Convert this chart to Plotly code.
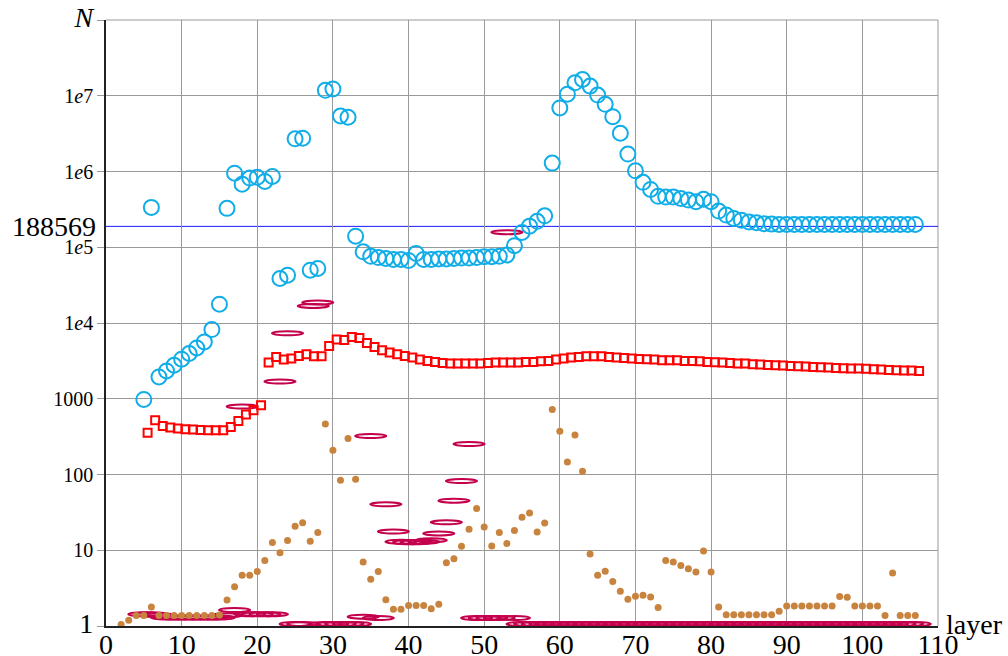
import numpy as np
import plotly.graph_objects as go

# ---------------- data ----------------
circ_layers = list(range(5, 108))
circ_vals = [
    980, 3.36e5, 1940, 2330, 2770, 3325, 3955, 4690, 5630, 8200,      # 5-14
    1.77e4, 3.26e5, 9.5e5, 6.8e5, 8.2e5, 8.4e5, 7.4e5, 8.6e5, 3.87e4, 4.28e4,  # 15-24
    2.7e6, 2.75e6, 4.98e4, 5.25e4, 1.18e7, 1.23e7, 5.4e6, 5.2e6, 1.4e5, 8.7e4,  # 25-34
    7.6e4, 7.3e4, 7.1e4, 6.9e4, 6.9e4, 6.7e4, 8.3e4, 6.9e4, 6.9e4, 7.0e4,  # 35-44
    7.0e4, 7.1e4, 7.2e4, 7.2e4, 7.3e4, 7.5e4, 7.5e4, 7.6e4, 7.9e4, 1.05e5,  # 45-54
    1.57e5, 1.9e5, 2.2e5, 2.6e5, 1.29e6, 6.9e6, 1.05e7, 1.48e7, 1.64e7, 1.34e7,  # 55-64
    1.02e7, 7.7e6, 5.3e6, 3.2e6, 1.7e6, 1.02e6, 7.2e5, 5.8e5, 4.7e5, 4.6e5,  # 65-74
    4.6e5, 4.4e5, 4.2e5, 4.0e5, 4.3e5, 4.0e5, 3.0e5, 2.66e5, 2.4e5, 2.28e5,  # 75-84
    2.16e5, 2.1e5, 2.05e5, 2.02e5, 2.0e5, 2.0e5, 2.0e5, 2.0e5, 2.0e5, 2.0e5,  # 85-94
    2.0e5, 2.0e5, 2.0e5, 2.0e5, 2.0e5, 2.0e5, 2.0e5, 2.0e5, 2.0e5, 2.0e5,  # 95-104
    2.0e5, 2.0e5, 2.0e5,                                                   # 105-107
]

sq_layers = [l + 0.5 for l in range(5, 108)]
sq_vals = [
    357, 520, 437, 417, 404, 395, 392, 386, 384, 384,        # 5.5-14.5
    384, 424, 509, 620, 705, 820, 3000, 3560, 3300, 3390,    # 15.5-24.5
    3670, 3870, 3640, 3640, 4980, 6050, 5950, 6550, 6340, 5460,  # 25.5-34.5
    4830, 4370, 4070, 3870, 3670, 3500, 3300, 3160, 3060, 2970,  # 35.5-44.5
    2915, 2915, 2915, 2915, 2915, 2970, 3000, 3000, 3000, 3010,  # 45.5-54.5
    3060, 3060, 3130, 3160, 3300, 3400, 3500, 3565, 3640, 3640,  # 55.5-64.5
    3640, 3565, 3500, 3460, 3400, 3360, 3325, 3300, 3225, 3225,  # 65.5-74.5
    3225, 3160, 3160, 3130, 3060, 3035, 3005, 2970, 2915, 2915,  # 75.5-84.5
    2855, 2830, 2800, 2770, 2745, 2710, 2690, 2660, 2630, 2605,  # 85.5-94.5
    2580, 2555, 2530, 2505, 2505, 2480, 2455, 2430, 2400, 2380,  # 95.5-104.5
    2355, 2355, 2330,                                            # 105.5-107.5
]

dot_layers = list(range(2, 108))
dot_vals = [
    1.05, 1.19, 1.38, 1.38, 1.78, 1.38, 1.38, 1.38, 1.38, 1.38,   # 2-11
    1.38, 1.38, 1.38, 1.40, 2.2, 3.3, 4.66, 4.66, 5.26, 7.35,     # 12-21
    12.7, 9.3, 13.5, 20.7, 23.1, 13.1, 17.1, 465, 209, 84,        # 22-31
    298, 86.5, 7.0, 4.15, 5.26, 2.22, 1.66, 1.66, 1.87, 1.87,     # 32-41
    1.87, 1.69, 1.93, 6.86, 7.74, 11.3, 18.9, 35.7, 20.3, 11.4,   # 42-51
    17.1, 12.3, 18.2, 27.2, 31, 17.4, 22.9, 720, 372, 146,        # 52-61
    333, 110, 8.9, 4.66, 5.3, 3.86, 2.87, 2.25, 2.47, 2.54,       # 62-71
    2.41, 1.76, 7.3, 7.0, 6.3, 5.7, 5.15, 9.8, 5.15, 1.78,        # 72-81
    1.41, 1.41, 1.41, 1.41, 1.41, 1.41, 1.41, 1.57, 1.83, 1.83,   # 82-91
    1.83, 1.83, 1.83, 1.83, 1.83, 2.46, 2.4, 1.83, 1.83, 1.83,    # 92-101
    1.83, 1.38, 5.0, 1.38, 1.38, 1.38,                            # 102-107
]

ell_layers = [5, 6, 7, 8, 9, 10, 11, 12, 13, 14, 15, 16, 17, 18, 19, 20, 21, 22,
              23, 24, 25, 26, 27.4, 28, 29, 30, 31, 32, 33, 34, 35, 36, 37, 38,
              39, 40, 41, 42, 43, 44, 45, 46, 47, 48, 49, 50, 51, 52, 53, 54] + list(range(55, 108))
ell_vals = [1.35, 1.35, 1.3, 1.22, 1.22, 1.22, 1.22, 1.22, 1.22, 1.22, 1.22, 1.3,
            1.53, 742, 1.35, 1.35, 1.35, 1.35, 1590, 6900, 1.0, 1.0, 1.58e4, 1.75e4,
            1.0, 1.0, 1.0, 1.0, 1.0, 1.25, 303, 1.2, 38, 16.6, 12.2, 12.0, 12.0,
            12.2, 12.8, 15.7, 22, 42.5, 77, 238, 1.2, 1.2, 1.2, 1.2, 1.49e5, 1.2] + [1.0] * 53

ref_value = 188569

x_ticks = list(range(0, 111, 10))
y_ticks = [1, 10, 100, 1000, 1e4, 1e5, 1e6, 1e7, 1e8]
y_ticktext = ['<span style="font-size:28px">1</span>', '10', '100', '1000',
              '1<i>e</i>4', '1<i>e</i>5', '1<i>e</i>6', '1<i>e</i>7',
              '<span style="font-size:28px"><i>N</i></span>']

FONT = "Liberation Serif"
GRID = "#9a9a9a"

fig = go.Figure()

# frame lines at the top and right edge (grid colour)
fig.add_shape(type="line", xref="paper", yref="paper", x0=0, x1=1, y0=1, y1=1,
              line=dict(color=GRID, width=1), layer="below")
fig.add_shape(type="line", xref="paper", yref="paper", x0=1, x1=1, y0=0, y1=1,
              line=dict(color=GRID, width=1), layer="below")

# ellipses
for xv, yv in zip(ell_layers, ell_vals):
    fig.add_shape(type="circle", xref="x", yref="y", xsizemode="pixel", ysizemode="pixel",
                  xanchor=xv, yanchor=yv, x0=-15.5, x1=15.5, y0=-4, y1=4,
                  line=dict(color="#C4004C", width=2), layer="between")

# reference line
fig.add_shape(type="line", xref="paper", x0=0, x1=1, yref="y", y0=ref_value, y1=ref_value,
              line=dict(color="#1a1aff", width=1), layer="between")

fig.add_trace(go.Scatter(x=dot_layers, y=dot_vals, mode="markers",
                         marker=dict(size=7, color="#C8843E"), cliponaxis=False, showlegend=False))
fig.add_trace(go.Scatter(x=sq_layers, y=sq_vals, mode="markers",
                         marker=dict(symbol="square-open", size=8, color="#FF0000", line=dict(width=2)),
                         cliponaxis=False, showlegend=False))
fig.add_trace(go.Scatter(x=circ_layers, y=circ_vals, mode="markers",
                         marker=dict(symbol="circle-open", size=15, color="#10ADE8", line=dict(width=2)),
                         cliponaxis=False, showlegend=False))

fig.add_annotation(xref="paper", x=0, yref="y", y=np.log10(ref_value), text="188569",
                   showarrow=False, xanchor="right", yanchor="middle", xshift=-8,
                   font=dict(family=FONT, size=28, color="black"))
fig.add_annotation(xref="x", x=110, yref="y", y=0, text="layer",
                   showarrow=False, xanchor="left", yanchor="middle", xshift=6, yshift=2,
                   font=dict(family=FONT, size=28, color="black"))

fig.update_layout(
    width=1008, height=656,
    margin=dict(l=106, r=70, t=20, b=30, pad=0),
    paper_bgcolor="white", plot_bgcolor="white",
    font=dict(family=FONT, color="black"),
    showlegend=False,
)
fig.update_xaxes(range=[0, 110], tickvals=x_ticks, ticktext=[str(v) for v in x_ticks],
                 showgrid=True, gridcolor=GRID, gridwidth=1, zeroline=False,
                 showline=True, linecolor="#222222", linewidth=1.5, ticks="",
                 ticklabelstandoff=-7,
                 tickfont=dict(family=FONT, size=28, color="black"), automargin=False)
fig.update_yaxes(type="log", range=[0, 8], tickvals=y_ticks, ticktext=y_ticktext,
                 showgrid=True, gridcolor=GRID, gridwidth=1, zeroline=False,
                 showline=True, linecolor="#222222", linewidth=1.5,
                 ticks="outside", ticklen=7, tickcolor=GRID, tickwidth=1,
                 tickfont=dict(family=FONT, size=20, color="black"), automargin=False)

fig.write_html("out.html")
